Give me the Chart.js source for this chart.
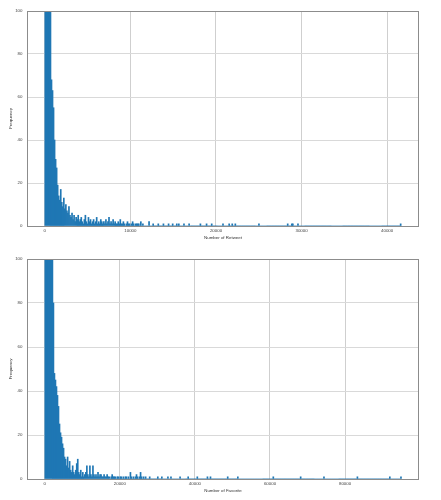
<!DOCTYPE html>
<html>
<head>
<meta charset="utf-8">
<script src="https://cdn.jsdelivr.net/npm/chart.js@4.4.1/dist/chart.umd.min.js"></script>
<style>
  body { margin: 0; background: #fff; }
  #wrap { position: relative; width: 441px; height: 500px; }
  canvas { position: absolute; left: 0; }
</style>
</head>
<body>
<div id="wrap">
  <canvas id="retweet" width="441" height="245" style="top:0"></canvas>
  <canvas id="favorite" width="441" height="255" style="top:245px"></canvas>
</div>
<script>
// ヒストグラムのビン幅
const retweetBinWidth = 120;
const favoriteBinWidth = 270;

// リツイート数: 先頭からの度数（ビンごと）
const retweetCounts = [
  420, 310, 230, 170, 135, 110, 68, 63, 55, 40, 31, 27, 19, 14, 12, 17,
  11, 9, 13, 8, 10, 7, 6, 9, 5, 4, 6, 3, 5, 2, 4, 3, 5, 2, 3, 4,
  2, 1, 3, 5, 2, 1, 4, 2, 3, 1, 2, 3, 1, 2, 4, 1, 2, 1, 3, 2,
  1, 2, 1, 3, 1, 2, 4, 1, 2, 1, 3, 1, 2, 1, 1, 2, 1, 3, 1, 1,
  2, 1, 0, 1, 2, 1, 1, 0, 1, 2, 1, 0, 1, 1, 0, 1, 0, 1, 0, 1
];
// リツイート数: まばらな裾の部分
const retweetTailValues = [
  10800, 11200, 12200, 12700, 13200, 13900, 14500, 14900, 15400, 15600,
  16200, 16800, 18200, 18900, 19500, 20800, 21500, 21900, 22300, 25000,
  28400, 28800, 29000, 29600, 41560
];
const retweetTailCounts = [
  1, 1, 2, 1, 1, 1, 1, 1, 1, 1, 1, 1, 1, 1, 1, 1, 1, 1, 1, 1, 1, 1, 1, 1, 1
];

// いいね数: 先頭からの度数（ビンごと）
const favoriteCounts = [
  520, 380, 290, 220, 175, 140, 118, 104,
  80, 48, 45, 42, 38, 33, 25, 21, 19, 16, 14, 10,
  9, 6, 10, 5, 8, 4, 3, 6, 3, 2,
  4, 7, 9, 3, 2, 4, 1, 3, 1, 2,
  3, 6, 2, 1, 6, 2, 1, 6, 2, 1,
  2, 1, 3, 1, 2, 2, 1, 1, 2, 1,
  1, 2, 1, 1, 0, 1, 2, 1, 1, 1,
  0, 1, 1, 0, 1, 1, 0, 1, 0, 1,
  1, 0, 1, 0, 3, 1, 0, 1, 0, 1,
  2, 1, 0, 1, 3, 1, 0, 1, 0, 1
];
const favoriteTailValues = [
  27900, 30000, 31300, 32700, 33700, 36100, 38300, 40700, 43300, 44100,
  48700, 51500, 60900, 68100, 74400, 83300, 92000, 94800
];
const favoriteTailCounts = [
  1, 1, 1, 1, 1, 1, 1, 1, 1, 1, 1, 1, 1, 1, 1, 1, 1, 1
];

// 軸の範囲と目盛り
const retweetRange = [-2082, 43722];
const retweetTicks = [0, 10000, 20000, 30000, 40000];
const favoriteRange = [-4748, 99708];
const favoriteTicks = [0, 20000, 40000, 60000, 80000];
const yTicks = [0, 20, 40, 60, 80, 100];

// 度数の配列と裾の値からビンの点を作る
function buildBins(counts, tailValues, tailCounts, binWidth) {
  const bins = counts.slice();
  for (let i = 0; i < tailValues.length; i++) {
    const idx = Math.floor(tailValues[i] / binWidth);
    while (bins.length <= idx) bins.push(0);
    bins[idx] += tailCounts[i];
  }
  return bins.map((c, i) => ({ x: (i + 0.5) * binWidth, y: c }));
}

// 枠線を描く
const framePlugin = {
  id: "frame",
  afterDraw(chart) {
    const a = chart.chartArea;
    const ctx = chart.ctx;
    ctx.save();
    ctx.strokeStyle = "#8c8c8c";
    ctx.lineWidth = 1;
    ctx.strokeRect(a.left + 0.5, a.top + 0.5, a.right - a.left - 1, a.bottom - a.top);
    ctx.restore();
  },
};

const font = { family: "'Liberation Sans', Arial, sans-serif", size: 4.4 };

function makeChart(id, points, range, xTicks, xLabel, opts) {
  const ctx = document.getElementById(id).getContext("2d");
  return new Chart(ctx, {
    type: "bar",
    data: {
      datasets: [{
        data: points,
        backgroundColor: "#1f77b4",
        borderWidth: 0,
        barPercentage: 1,
        categoryPercentage: 1,
      }],
    },
    plugins: [framePlugin],
    options: {
      responsive: false,
      animation: false,
      events: [],
      layout: { padding: { top: opts.top, right: 22, left: 0, bottom: 0 } },
      plugins: { legend: { display: false }, tooltip: { enabled: false } },
      scales: {
        x: {
          type: "linear",
          min: range[0],
          max: range[1],
          offset: false,
          afterFit: (s) => { s.height = opts.xHeight; },
          afterBuildTicks: (s) => { s.ticks = xTicks.map((v) => ({ value: v })); },
          grid: { color: "#cfcfcf", drawTicks: false, offset: false },
          border: { display: false },
          ticks: { font, color: "#444", padding: 2.5, maxRotation: 0, callback: (v) => String(v) },
          title: { display: true, text: xLabel, font, color: "#333", padding: { top: 0, bottom: opts.titlePad } },
        },
        y: {
          min: 0,
          max: 100,
          afterFit: (s) => { s.width = 27; },
          afterBuildTicks: (s) => { s.ticks = yTicks.map((v) => ({ value: v })); },
          grid: { color: "#d9d9d9", drawTicks: false },
          border: { display: false },
          ticks: { font, color: "#444", padding: 4.5, callback: (v) => String(v) },
          title: { display: true, text: "Frequency", font, color: "#333", padding: { top: 8.4, bottom: 0 } },
        },
      },
    },
  });
}

makeChart(
  "retweet",
  buildBins(retweetCounts, retweetTailValues, retweetTailCounts, retweetBinWidth),
  retweetRange, retweetTicks, "Number of Retweet",
  { top: 11, xHeight: 19, titlePad: 4.9 }
);
makeChart(
  "favorite",
  buildBins(favoriteCounts, favoriteTailValues, favoriteTailCounts, favoriteBinWidth),
  favoriteRange, favoriteTicks, "Number of Favorite",
  { top: 14, xHeight: 21, titlePad: 6.9 }
);
</script>
</body>
</html>
